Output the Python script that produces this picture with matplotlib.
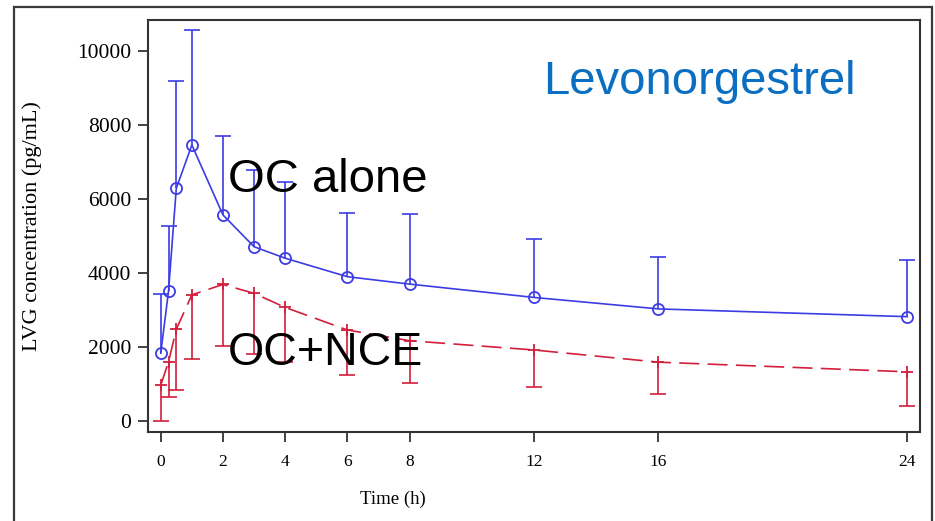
import matplotlib
matplotlib.use("Agg")
import matplotlib.pyplot as plt
from matplotlib.patches import Rectangle

# Data
time_h = [0, 0.25, 0.5, 1, 2, 3, 4, 6, 8, 12, 16, 24]
oc_alone_mean = [1830, 3510, 6290, 7460, 5570, 4710, 4400, 3900, 3700, 3340, 3030, 2820]
oc_alone_upper = [3430, 5280, 9180, 10570, 7690, 6790, 6450, 5630, 5590, 4920, 4420, 4350]
oc_nce_mean = [970, 1600, 2480, 3410, 3690, 3450, 3070, 2460, 2170, 1920, 1590, 1330]
oc_nce_lower = [0, 660, 840, 1670, 2030, 1800, 1590, 1240, 1040, 910, 740, 400]
x_ticks = [0, 2, 4, 6, 8, 12, 16, 24]
y_ticks = [0, 2000, 4000, 6000, 8000, 10000]

blue = '#3c3ce4'
red = '#d21f3c'

W, H = 935, 521
fig = plt.figure(figsize=(W / 100, H / 100), dpi=100)

# outer frame
fig.patches.append(Rectangle((14 / W, -0.05), (932 - 14) / W, 1.05 - 7 / H,
                             transform=fig.transFigure, fill=False,
                             edgecolor='#3a3a3a', linewidth=1.6, zorder=0))

ax = fig.add_axes([148 / W, 1 - 432 / H, (920 - 148) / W, (432 - 20) / H])

# OC alone: one-sided upper error bars
ax.vlines(time_h, oc_alone_mean, oc_alone_upper, color=blue, lw=1.2, zorder=2)
ax.plot(time_h, oc_alone_upper, linestyle='none', marker='_', markersize=12,
        markeredgewidth=1.2, color=blue, zorder=2)
ax.plot(time_h, oc_alone_mean, color=blue, lw=1.2, marker='o', markersize=8,
        markerfacecolor='none', markeredgecolor=blue, markeredgewidth=1.3, zorder=3)

# OC+NCE: one-sided lower error bars
ax.vlines(time_h, oc_nce_lower, oc_nce_mean, color=red, lw=1.2, zorder=2)
ax.plot(time_h, oc_nce_lower, linestyle='none', marker='_', markersize=12,
        markeredgewidth=1.2, color=red, zorder=2)
ax.plot(time_h, oc_nce_mean, color=red, lw=1.2, dashes=(12, 5), marker='+',
        markersize=8, markeredgewidth=1.3, zorder=3)

ax.set_xlim(-0.41, 24.41)
ax.set_ylim(-297, 10838)
ax.set_xticks(x_ticks)
ax.set_yticks(y_ticks)
ax.set_xticklabels([str(t) for t in x_ticks], family='Liberation Serif', fontsize=12.5)
ax.set_yticklabels([str(t) for t in y_ticks], family='Liberation Serif', fontsize=15.5)
ax.tick_params(axis='both', direction='out', length=7, width=1.3, color='#333333')
ax.tick_params(axis='x', pad=9)
ax.tick_params(axis='y', pad=5)
for s in ax.spines.values():
    s.set_linewidth(1.5)
    s.set_color('#333333')

ax.set_ylabel('LVG concentration (pg/mL)', family='Liberation Serif', fontsize=16)
ax.yaxis.set_label_coords((42 - 148) / (920 - 148), 0.5)

fig.text(393 / W, 1 - 499 / H, 'Time (h)', family='Liberation Serif', fontsize=13.5,
         ha='center', va='center')

fig.text(543 / W, 1 - 93.5 / H, 'Levonorgestrel', family='Liberation Sans',
         fontsize=34, color='#0a6fc2', ha='left', va='baseline')
fig.text(228 / W, 1 - 191.5 / H, 'OC alone', family='Liberation Sans',
         fontsize=34, color='black', ha='left', va='baseline')
fig.text(228 / W, 1 - 365 / H, 'OC+NCE', family='Liberation Sans',
         fontsize=33.5, color='black', ha='left', va='baseline')

fig.savefig('out.png', dpi=100)
